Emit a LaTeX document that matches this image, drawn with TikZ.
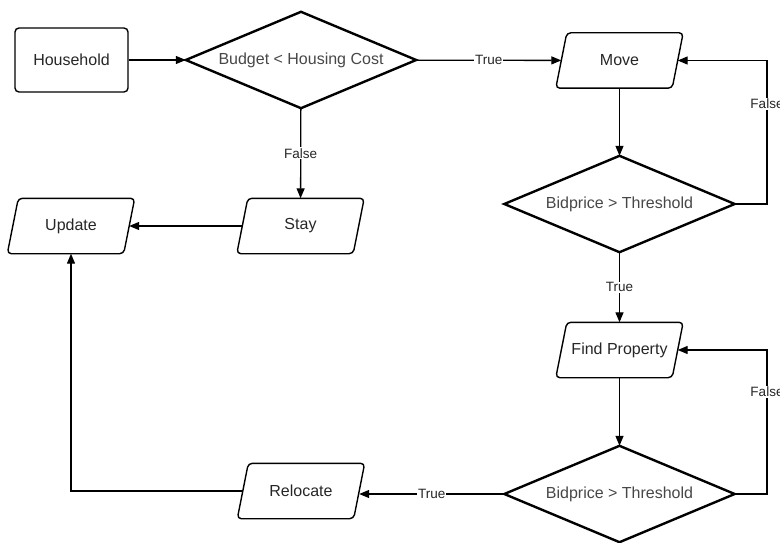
\documentclass[tikz,border=0pt]{standalone}
\usepackage{fontspec}
\setmainfont{Liberation Sans}
\usetikzlibrary{arrows.meta}
\begin{document}
\begin{tikzpicture}[x=1pt,y=-1pt,
  base/.style={font=\fontsize{16}{19}\selectfont, text=black!85, inner sep=0pt},
  proc/.style={base, draw, line width=1.4pt, rectangle, rounded corners=4pt, minimum width=113pt, minimum height=64pt},
  para/.style={base, rectangle, minimum width=116pt, minimum height=55pt},
  paraline/.style={draw, line width=1.4pt, rounded corners=4pt},
  dec/.style={base, rectangle, minimum width=230pt, minimum height=96pt, text=black!72},
  decline/.style={draw, line width=2.4pt, line join=miter},
  conn/.style={line width=1.3pt, -{Triangle[length=10pt,width=8pt]}},
  lbl/.style={fill=white, font=\fontsize{13.5}{16}\selectfont, text=black!85, inner sep=1pt}
]
\useasboundingbox (0,0) rectangle (780,543);
\node[proc] (hh) at (71.5,60) {Household};
\node[dec] (d1) at (301,60) {Budget < Housing Cost};
\node[para] (move) at (619.5,60.5) {Move};
\node[dec] (d2) at (619.5,204) {Bidprice > Threshold};
\node[para] (find) at (619.5,350) {Find Property};
\node[dec] (d3) at (619.5,494) {Bidprice > Threshold};
\node[para] (reloc) at (301,491) {Relocate};
\node[para] (stay) at (300.5,226) {Stay};
\node[para] (upd) at (71,226) {Update};
\coordinate (c1) at (767,204);
\coordinate (c2) at (767,494);

\foreach \n in {move,find,reloc,stay,upd}
  \draw[paraline] ([xshift=5.5pt]\n.north west) -- ([xshift=5.5pt]\n.north east)
    -- ([xshift=-5.5pt]\n.south east) -- ([xshift=-5.5pt]\n.south west) -- cycle;
\foreach \n in {d1,d2,d3}
  \draw[decline] (\n.north) -- (\n.east) -- (\n.south) -- (\n.west) -- cycle;

\draw[conn] (hh) -- (d1);
\draw[conn] (d1) -- node[lbl]{True} (move);
\draw[conn] (d1) -- node[lbl]{False} (stay);
\draw[conn] (move) -- (d2);
\draw[conn] (d2.east) -- (c1) |- node[lbl,pos=0.35]{False} (move.east);
\draw[conn] (d2) -- node[lbl]{True} (find);
\draw[conn] (find) -- (d3);
\draw[conn] (d3.east) -- (c2) |- node[lbl,pos=0.354]{False} (find.east);
\draw[conn] (d3.west) -- node[lbl]{True} (d3.west -| reloc.east);
\draw[conn] (reloc.west) -| (upd.south);
\draw[conn] (stay) -- (upd);
\end{tikzpicture}
\end{document}
